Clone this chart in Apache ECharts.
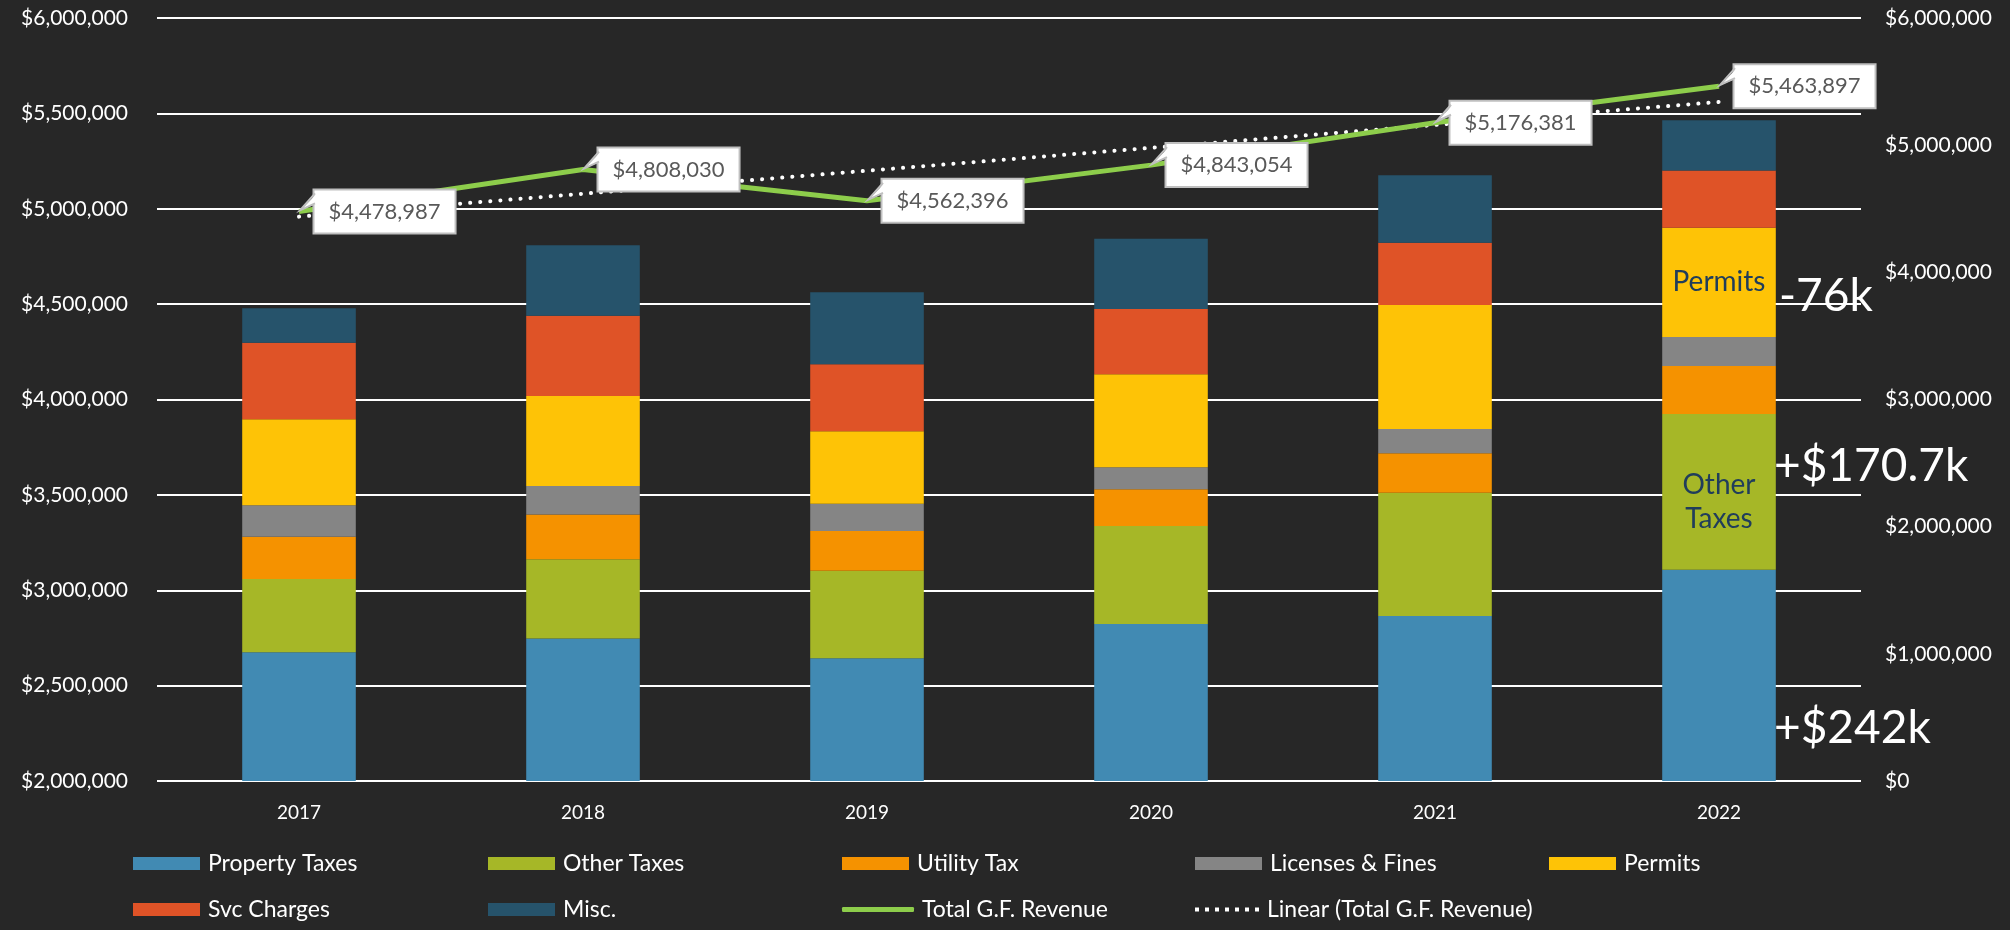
<!DOCTYPE html>
<html><head><meta charset="utf-8">
<script src="https://cdn.jsdelivr.net/npm/echarts@6/dist/echarts.min.js"></script>
<style>html,body{margin:0;padding:0;background:#272727}#chart{width:2010px;height:930px}</style>
</head><body><div id="chart"></div>
<script>
// ---- data ----
const years = ['2017', '2018', '2019', '2020', '2021', '2022'];
const propertyTaxes = [2675000, 2747000, 2644000, 2823000, 2865000, 3107000];
const otherTaxes    = [384000, 415000, 458000, 514000, 646000, 817000];
const utilityTax    = [222000, 235000, 208000, 192000, 207000, 252000];
const licensesFines = [164000, 149000, 144000, 116000, 128000, 152000];
const permits       = [451000, 472000, 379000, 488000, 649000, 573000];
const svcCharges    = [402000, 421000, 352000, 341000, 327000, 300000];
const misc          = [181000, 369000, 377000, 369000, 354000, 263000];
const totalRevenue  = [4478987, 4808030, 4562396, 4843054, 5176381, 5463897];
const linearTrend   = [4438000, 4618000, 4799000, 4979000, 5159000, 5340000];
const leftAxisTicks  = {min: 2000000, max: 6000000, interval: 500000};
const rightAxisTicks = {min: 0, max: 6000000, interval: 1000000};
const annotations = ['+$242k', '+$170.7k', '-76k'];

// ---- styling ----
const FONT = 'Lato';
const money = v => '$' + Math.round(v).toLocaleString('en-US');
const colors = {
  'Property Taxes': '#418AB3',
  'Other Taxes': '#A6B727',
  'Utility Tax': '#F59200',
  'Licenses & Fines': '#858585',
  'Permits': '#FEC306',
  'Svc Charges': '#DF5327',
  'Misc.': '#26536B'
};
const barSets = [
  ['Property Taxes', propertyTaxes],
  ['Other Taxes', otherTaxes],
  ['Utility Tax', utilityTax],
  ['Licenses & Fines', licensesFines],
  ['Permits', permits],
  ['Svc Charges', svcCharges],
  ['Misc.', misc]
];
const innerLabels = {
  'Permits': {text: 'Permits', offset: [0, 0]},
  'Other Taxes': {text: 'Other\nTaxes', offset: [0, 10]}
};

const series = barSets.map(([name, vals]) => ({
  name, type: 'bar', stack: 'rev', yAxisIndex: 0, barWidth: '40%',
  itemStyle: {color: colors[name]},
  data: vals.map((v, i) => {
    const lab = innerLabels[name];
    if (lab && i === vals.length - 1) {
      return {value: v, label: {show: true, position: 'inside', formatter: lab.text,
        offset: lab.offset, color: '#203D5B', fontSize: 28, lineHeight: 34, fontFamily: FONT}};
    }
    return v;
  })
}));

series.push({
  name: 'Total G.F. Revenue', type: 'line', yAxisIndex: 1, z: 5,
  symbol: 'circle', symbolSize: 1, showSymbol: true,
  itemStyle: {color: '#8DCD4B'},
  lineStyle: {color: '#8DCD4B', width: 5},
  label: {
    show: true, position: 'right', distance: 15,
    formatter: p => money(p.value),
    backgroundColor: '#ffffff', borderColor: '#BFBFBF', borderWidth: 2,
    padding: [7, 14, 7, 14], color: '#595959', fontSize: 22, lineHeight: 28, fontFamily: FONT
  },
  data: totalRevenue
});
series.push({
  name: 'Linear (Total G.F. Revenue)', type: 'line', yAxisIndex: 1, z: 4,
  symbol: 'none',
  itemStyle: {color: '#ffffff'},
  lineStyle: {color: '#ffffff', width: 4, type: [0.1, 10], cap: 'round'},
  data: linearTrend
});

// legends laid out as a 5-column grid
const legendNames = ['Property Taxes', 'Other Taxes', 'Utility Tax', 'Licenses & Fines', 'Permits',
  'Svc Charges', 'Misc.', 'Total G.F. Revenue', 'Linear (Total G.F. Revenue)'];
const legendCols = [133, 488, 842, 1195, 1549];
const legendRowCenters = [865, 911];
let dots = '';
for (let k = 0; k < 7; k++) dots += 'M' + (k * 10) + ',0h4v4h-4z';
const legends = legendNames.map((name, idx) => {
  const col = idx % 5, row = Math.floor(idx / 5);
  const lg = {
    show: true, data: [name], left: legendCols[col], top: legendRowCenters[row] - 13,
    padding: 0, itemGap: 0, itemWidth: 67, itemHeight: 13, icon: 'rect',
    textStyle: {color: '#ffffff', fontSize: 23, fontFamily: FONT, padding: [0, 0, 0, 3]},
    selectedMode: false
  };
  if (name === 'Total G.F. Revenue') { lg.icon = 'roundRect'; lg.itemHeight = 5; lg.itemWidth = 72; }
  if (name === 'Linear (Total G.F. Revenue)') { lg.icon = 'path://' + dots; lg.itemHeight = 4; lg.itemWidth = 64; }
  return lg;
});

const chart = echarts.init(document.getElementById('chart'), null, {renderer: 'canvas'});
const option = {
  backgroundColor: '#272727',
  animation: false,
  textStyle: {fontFamily: FONT},
  grid: {left: 157, right: 149, top: 18, bottom: 149, containLabel: false},
  legend: legends,
  xAxis: {
    type: 'category', data: years,
    axisLine: {show: false}, axisTick: {show: false},
    axisLabel: {color: '#ffffff', fontSize: 19, fontFamily: FONT, margin: 22}
  },
  yAxis: [
    {type: 'value', min: leftAxisTicks.min, max: leftAxisTicks.max, interval: leftAxisTicks.interval,
     axisLine: {show: false}, axisTick: {show: false},
     splitLine: {show: true, lineStyle: {color: '#ffffff', width: 2}},
     axisLabel: {color: '#ffffff', fontSize: 21, fontFamily: FONT, margin: 29, formatter: money}},
    {type: 'value', position: 'right', min: rightAxisTicks.min, max: rightAxisTicks.max, interval: rightAxisTicks.interval,
     axisLine: {show: false}, axisTick: {show: false}, splitLine: {show: false},
     axisLabel: {color: '#ffffff', fontSize: 21, fontFamily: FONT, margin: 24, formatter: money}}
  ],
  series
};
chart.setOption(option);

// annotation texts + callout tails of the data labels, anchored through the chart's scales
const graphics = [
  {type: 'text', x: 1774, y: 728, z: 100, style: {text: annotations[0], fill: '#fff', font: '46px Lato', verticalAlign: 'middle'}},
  {type: 'text', x: 1774, y: 466, z: 100, style: {text: annotations[1], fill: '#fff', font: '46px Lato', verticalAlign: 'middle'}},
  {type: 'text', x: 1779, y: 296, z: 100, style: {text: annotations[2], fill: '#fff', font: '46px Lato', verticalAlign: 'middle'}}
];
totalRevenue.forEach((v, i) => {
  const [px, py] = chart.convertToPixel({xAxisIndex: 0, yAxisIndex: 1}, [i, v]);
  const bx = px + 16; // left edge of label box
  graphics.push({type: 'polygon', z: 200, silent: true,
    shape: {points: [[bx + 2, py - 18], [bx + 2, py - 8], [px + 1, py - 1]]},
    style: {fill: '#ffffff'}});
  graphics.push({type: 'polyline', z: 201, silent: true,
    shape: {points: [[bx, py - 18], [px + 1, py - 1], [bx, py - 8]]},
    style: {stroke: '#BFBFBF', lineWidth: 2, fill: null}});
});
chart.setOption({graphic: graphics});
</script></body></html>
